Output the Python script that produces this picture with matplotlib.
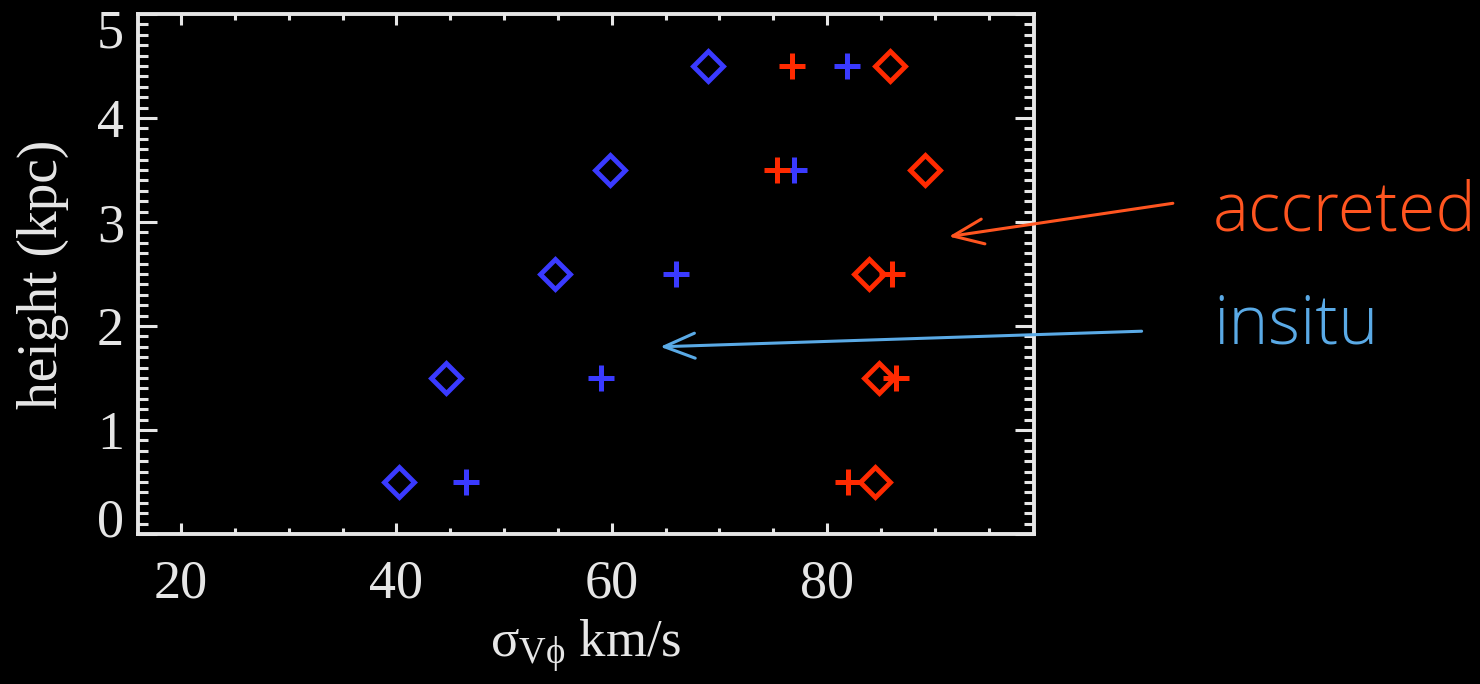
import matplotlib
matplotlib.use("Agg")
import matplotlib.pyplot as plt
from matplotlib.ticker import MultipleLocator
from matplotlib.transforms import ScaledTranslation

# velocity dispersion (km/s) per height bin (kpc)
heights = [0.5, 1.5, 2.5, 3.5, 4.5]
insitu_diamond = [40.2, 44.6, 54.7, 59.8, 68.9]
insitu_plus = [46.5, 59.0, 66.0, 76.9, 81.8]
accreted_diamond = [84.4, 84.8, 83.9, 89.1, 85.8]
accreted_plus = [81.9, 86.4, 86.0, 75.3, 76.7]

x_ticks = [20, 40, 60, 80]
y_ticks = [0, 1, 2, 3, 4, 5]

BLUE = "#3a3aff"
RED = "#ff2a00"
AXIS = "#e6e6e6"
ACC_COL = "#ff5520"
INS_COL = "#5aaae6"

plt.rcParams["mathtext.fontset"] = "custom"
plt.rcParams["mathtext.rm"] = "Liberation Serif"
plt.rcParams["mathtext.it"] = "Liberation Serif"
plt.rcParams["mathtext.bf"] = "Liberation Serif:bold"
serif = ["Liberation Serif", "DejaVu Serif"]
label_font = ["Open Sans", "Noto Sans CJK JP", "DejaVu Sans"]

fig = plt.figure(figsize=(14.8, 6.84), dpi=100, facecolor="black")
ax = fig.add_axes([0.0932, 0.2193, 0.6054, 0.7602], facecolor="black")

ax.plot(insitu_diamond, heights, ls="none", marker="D", ms=15, mfc="none",
        mec=BLUE, mew=3.5)
ax.plot(insitu_plus, heights, ls="none", marker="+", ms=19, mec=BLUE, mew=3.6)
ax.plot(accreted_diamond, heights, ls="none", marker="D", ms=15, mfc="none",
        mec=RED, mew=3.5)
ax.plot(accreted_plus, heights, ls="none", marker="+", ms=19, mec=RED, mew=3.6)

ax.set_xlim(16, 99.2)
ax.set_ylim(0, 5)
ax.set_xticks(x_ticks)
ax.set_yticks(y_ticks)
ax.xaxis.set_minor_locator(MultipleLocator(5))
ax.yaxis.set_minor_locator(MultipleLocator(0.1))

for side in ax.spines.values():
    side.set_color(AXIS)
    side.set_linewidth(2.8)

ax.tick_params(axis="both", which="both", direction="in", colors=AXIS,
               top=True, right=True, width=2.2)
ax.tick_params(axis="x", which="major", length=8, pad=18)
ax.tick_params(axis="x", which="minor", length=4)
ax.tick_params(axis="y", which="major", length=14, pad=10)
ax.tick_params(axis="y", which="minor", length=7)

for lab in ax.get_xticklabels() + ax.get_yticklabels():
    lab.set_family(serif)
    lab.set_fontsize(39)
    lab.set_color(AXIS)

# nudge the end labels of the height axis inside the frame
yt = ax.yaxis.get_major_ticks()
for tick, dy in ((yt[0], 12.0), (yt[-1], -10.5)):
    shift = ScaledTranslation(0, dy / 72, fig.dpi_scale_trans)
    tick.label1.set_transform(tick.label1.get_transform() + shift)

ax.set_xlabel(r"$\sigma_{V\phi}$ km/s", family=serif, fontsize=38,
              color=AXIS, labelpad=6)
ax.set_ylabel("height (kpc)", family=serif, fontsize=40, color=AXIS,
              labelpad=20)

# annotation arrows with labels
head = "->,head_length=2.2,head_width=0.9"
ax.annotate("", xy=(91.3, 2.86), xytext=(112.1, 3.18),
            xycoords="data", textcoords="data", annotation_clip=False,
            arrowprops=dict(arrowstyle=head, color=ACC_COL, lw=2.2,
                            shrinkA=0, shrinkB=0))
ax.annotate("", xy=(64.5, 1.80), xytext=(109.2, 1.95),
            xycoords="data", textcoords="data", annotation_clip=False,
            arrowprops=dict(arrowstyle=head, color=INS_COL, lw=2.2,
                            shrinkA=0, shrinkB=0))

fig.text(0.8196, 0.690, "accreted", color=ACC_COL, fontsize=49,
         family=label_font, weight="light", va="center", ha="left")
fig.text(0.8196, 0.524, "insitu", color=INS_COL, fontsize=49,
         family=label_font, weight="light", va="center", ha="left")

fig.savefig("out.png", dpi=100, facecolor="black")
